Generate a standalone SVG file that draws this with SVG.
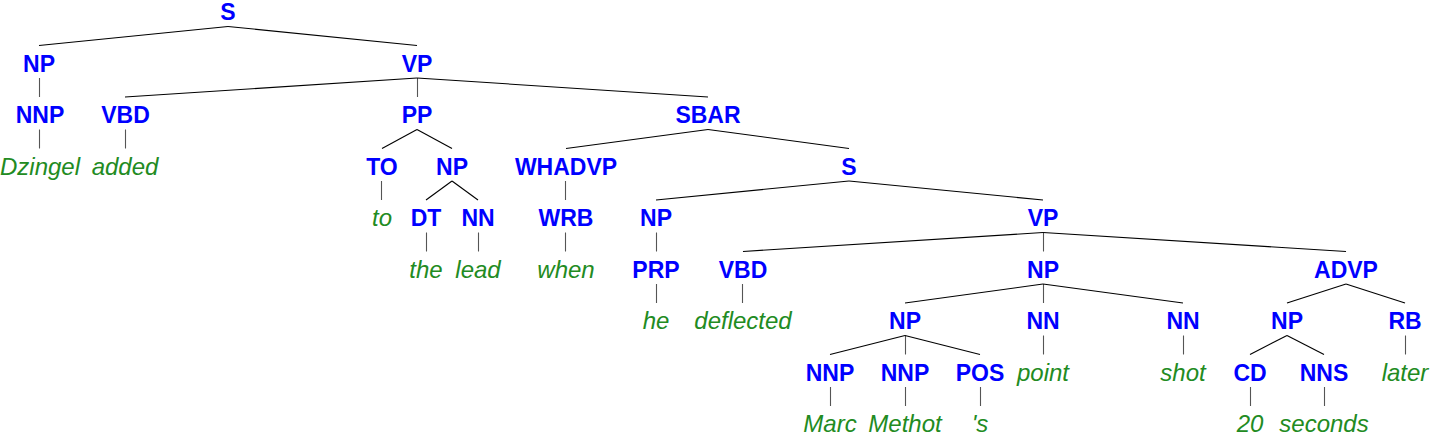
<svg xmlns="http://www.w3.org/2000/svg" width="1432" height="436" viewBox="0 0 1432 436">
<style>
.n{font-family:"Liberation Sans",Arial,sans-serif;font-weight:bold;font-size:23px;fill:#0000ff;text-anchor:middle}
.w{font-family:"Liberation Sans",Arial,sans-serif;font-style:italic;font-size:24px;fill:#228b22;text-anchor:middle}
.e line{stroke:#000;stroke-width:1.1}
.e .v{stroke:#555}
</style>
<rect width="1432" height="436" fill="#fff"/>
<g id="connectors" class="e">
<line x1="228" y1="26.5" x2="39" y2="45.5"/>
<line x1="228" y1="26.5" x2="417" y2="45.5"/>
<line class="v" x1="39.5" y1="78" x2="39.5" y2="97"/>
<line x1="417" y1="78" x2="125" y2="97"/>
<line class="v" x1="417.5" y1="78" x2="417.5" y2="97"/>
<line x1="417" y1="78" x2="708" y2="97"/>
<line class="v" x1="39.5" y1="129.5" x2="39.5" y2="148.5"/>
<line class="v" x1="125.5" y1="129.5" x2="125.5" y2="148.5"/>
<line x1="417" y1="129.5" x2="382" y2="148.5"/>
<line x1="417" y1="129.5" x2="452" y2="148.5"/>
<line x1="708" y1="129.5" x2="566" y2="148.5"/>
<line x1="708" y1="129.5" x2="849" y2="148.5"/>
<line class="v" x1="381.5" y1="181" x2="381.5" y2="200"/>
<line x1="452" y1="181" x2="426" y2="200"/>
<line x1="452" y1="181" x2="478" y2="200"/>
<line class="v" x1="565.5" y1="181" x2="565.5" y2="200"/>
<line x1="849" y1="181" x2="656" y2="200"/>
<line x1="849" y1="181" x2="1043" y2="200"/>
<line class="v" x1="426.5" y1="232.5" x2="426.5" y2="251.5"/>
<line class="v" x1="478.5" y1="232.5" x2="478.5" y2="251.5"/>
<line class="v" x1="565.5" y1="232.5" x2="565.5" y2="251.5"/>
<line class="v" x1="656.5" y1="232.5" x2="656.5" y2="251.5"/>
<line x1="1043" y1="232.5" x2="743" y2="251.5"/>
<line class="v" x1="1043.5" y1="232.5" x2="1043.5" y2="251.5"/>
<line x1="1043" y1="232.5" x2="1346" y2="251.5"/>
<line class="v" x1="656.5" y1="284" x2="656.5" y2="303"/>
<line class="v" x1="742.5" y1="284" x2="742.5" y2="303"/>
<line x1="1043" y1="284" x2="905" y2="303"/>
<line class="v" x1="1043.5" y1="284" x2="1043.5" y2="303"/>
<line x1="1043" y1="284" x2="1183" y2="303"/>
<line x1="1346" y1="284" x2="1287" y2="303"/>
<line x1="1346" y1="284" x2="1405" y2="303"/>
<line x1="905" y1="335.5" x2="830" y2="354.5"/>
<line class="v" x1="905.5" y1="335.5" x2="905.5" y2="354.5"/>
<line x1="905" y1="335.5" x2="980" y2="354.5"/>
<line class="v" x1="1043.5" y1="335.5" x2="1043.5" y2="354.5"/>
<line class="v" x1="1183.5" y1="335.5" x2="1183.5" y2="354.5"/>
<line x1="1287" y1="335.5" x2="1250" y2="354.5"/>
<line x1="1287" y1="335.5" x2="1324" y2="354.5"/>
<line class="v" x1="1405.5" y1="335.5" x2="1405.5" y2="354.5"/>
<line class="v" x1="830.5" y1="387" x2="830.5" y2="406"/>
<line class="v" x1="905.5" y1="387" x2="905.5" y2="406"/>
<line class="v" x1="980.5" y1="387" x2="980.5" y2="406"/>
<line class="v" x1="1250.5" y1="387" x2="1250.5" y2="406"/>
<line class="v" x1="1324.5" y1="387" x2="1324.5" y2="406"/>
</g>
<g id="n-S"><text class="n" x="228" y="20">S</text></g>
<g id="n-NP1"><text class="n" x="39" y="71.5">NP</text></g>
<g id="n-VP1"><text class="n" x="417" y="71.5">VP</text></g>
<g id="n-NNP1"><text class="n" x="40" y="123">NNP</text></g>
<g id="n-VBD1"><text class="n" x="125.5" y="123">VBD</text></g>
<g id="n-PP"><text class="n" x="417" y="123">PP</text></g>
<g id="n-SBAR"><text class="n" x="708" y="123">SBAR</text></g>
<g id="w-Dzingel"><text class="w" x="40" y="174.5">Dzingel</text></g>
<g id="w-added"><text class="w" x="125" y="174.5">added</text></g>
<g id="n-TO"><text class="n" x="382" y="174.5">TO</text></g>
<g id="n-NP2"><text class="n" x="452" y="174.5">NP</text></g>
<g id="n-WHADVP"><text class="n" x="566" y="174.5">WHADVP</text></g>
<g id="n-S2"><text class="n" x="849" y="174.5">S</text></g>
<g id="w-to"><text class="w" x="382" y="226">to</text></g>
<g id="n-DT"><text class="n" x="426" y="226">DT</text></g>
<g id="n-NN1"><text class="n" x="478" y="226">NN</text></g>
<g id="n-WRB"><text class="n" x="566" y="226">WRB</text></g>
<g id="n-NP3"><text class="n" x="656" y="226">NP</text></g>
<g id="n-VP2"><text class="n" x="1043" y="226">VP</text></g>
<g id="w-the"><text class="w" x="426" y="277.5">the</text></g>
<g id="w-lead"><text class="w" x="478" y="277.5">lead</text></g>
<g id="w-when"><text class="w" x="566" y="277.5">when</text></g>
<g id="n-PRP"><text class="n" x="656" y="277.5">PRP</text></g>
<g id="n-VBD2"><text class="n" x="743" y="277.5">VBD</text></g>
<g id="n-NP4"><text class="n" x="1043" y="277.5">NP</text></g>
<g id="n-ADVP"><text class="n" x="1346" y="277.5">ADVP</text></g>
<g id="w-he"><text class="w" x="656" y="329">he</text></g>
<g id="w-deflected"><text class="w" x="743" y="329">deflected</text></g>
<g id="n-NP5"><text class="n" x="905" y="329">NP</text></g>
<g id="n-NN2"><text class="n" x="1043" y="329">NN</text></g>
<g id="n-NN3"><text class="n" x="1183" y="329">NN</text></g>
<g id="n-NP6"><text class="n" x="1287" y="329">NP</text></g>
<g id="n-RB"><text class="n" x="1405" y="329">RB</text></g>
<g id="n-NNP2"><text class="n" x="830" y="380.5">NNP</text></g>
<g id="n-NNP3"><text class="n" x="905" y="380.5">NNP</text></g>
<g id="n-POS"><text class="n" x="980" y="380.5">POS</text></g>
<g id="w-point"><text class="w" x="1043" y="380.5">point</text></g>
<g id="w-shot"><text class="w" x="1183" y="380.5">shot</text></g>
<g id="n-CD"><text class="n" x="1250" y="380.5">CD</text></g>
<g id="n-NNS"><text class="n" x="1324" y="380.5">NNS</text></g>
<g id="w-later"><text class="w" x="1405" y="380.5">later</text></g>
<g id="w-Marc"><text class="w" x="830" y="432">Marc</text></g>
<g id="w-Methot"><text class="w" x="905" y="432">Methot</text></g>
<g id="w-s"><text class="w" x="980" y="432">'s</text></g>
<g id="w-20"><text class="w" x="1250" y="432">20</text></g>
<g id="w-seconds"><text class="w" x="1324" y="432">seconds</text></g>
</svg>
